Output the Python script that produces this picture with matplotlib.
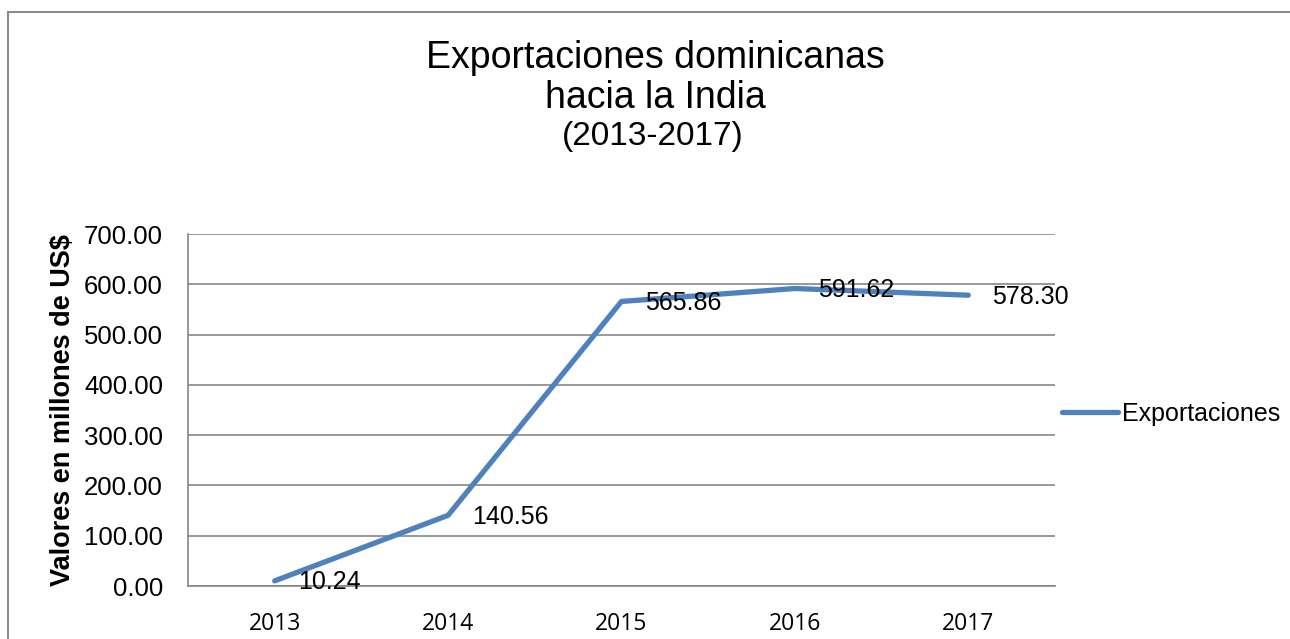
import matplotlib.pyplot as plt
from matplotlib.patches import Rectangle

anios = ['2013', '2014', '2015', '2016', '2017']
exportaciones = [10.24, 140.56, 565.86, 591.62, 578.30]
etiquetas_y = ['0.00', '100.00', '200.00', '300.00', '400.00', '500.00', '600.00', '700.00']

plt.rcParams['font.family'] = ['Liberation Sans', 'DejaVu Sans']

fig = plt.figure(figsize=(12.9, 6.39), dpi=100)
ax = fig.add_axes([0.1457, 0.0829, 0.6721, 0.5509])

# marco del grafico
fig.patches.append(Rectangle((8/1290, -0.05), 1.1, 1 - 12/639 + 0.05, transform=fig.transFigure,
                             fill=False, edgecolor='#8c8c8c', linewidth=1.5))

x = list(range(len(anios)))
linea, = ax.plot(x, exportaciones, color='#4F81BD', linewidth=3.8, solid_capstyle='round',
                 label='Exportaciones')

for xi, v in zip(x, exportaciones):
    ax.annotate(f'{v:.2f}', (xi, v), xytext=(17, -1), textcoords='offset points',
                ha='left', va='center', fontsize=18)

ax.set_xlim(-0.5, 4.5)
ax.set_ylim(0, 700)
ax.set_xticks(x)
ax.set_xticklabels(anios, fontsize=16.5, family=['Open Sans', 'DejaVu Sans'])
ax.set_yticks(range(0, 701, 100))
ax.set_yticklabels(etiquetas_y, fontsize=18.5)
ax.tick_params(length=0)
ax.tick_params(axis='y', pad=18)
ax.tick_params(axis='x', pad=19)
ax.grid(axis='y', color='#868686', linewidth=1.2)
ax.set_axisbelow(True)
for s in ['top', 'right']:
    ax.spines[s].set_visible(False)
for s in ['left', 'bottom']:
    ax.spines[s].set_color('#868686')
    ax.spines[s].set_linewidth(1.2)

ax.set_ylabel('Valores en millones de US$', fontsize=19.5, fontweight='bold')
ax.yaxis.set_label_coords(-0.129, 0.5)

fig.text(0.508, 0.9094, 'Exportaciones dominicanas', ha='center', va='center', fontsize=27)
fig.text(0.508, 0.8466, 'hacia la India', ha='center', va='center', fontsize=27)
fig.text(0.506, 0.7857, '(2013-2017)', ha='center', va='center', fontsize=24)

fig.legend(handles=[linea], loc='center left', bbox_to_anchor=(1062/1290, 1 - 414/639),
           frameon=False, fontsize=18, handlelength=2.24, handletextpad=0.16,
           borderpad=0, borderaxespad=0)

fig.savefig('out.png', dpi=100)
